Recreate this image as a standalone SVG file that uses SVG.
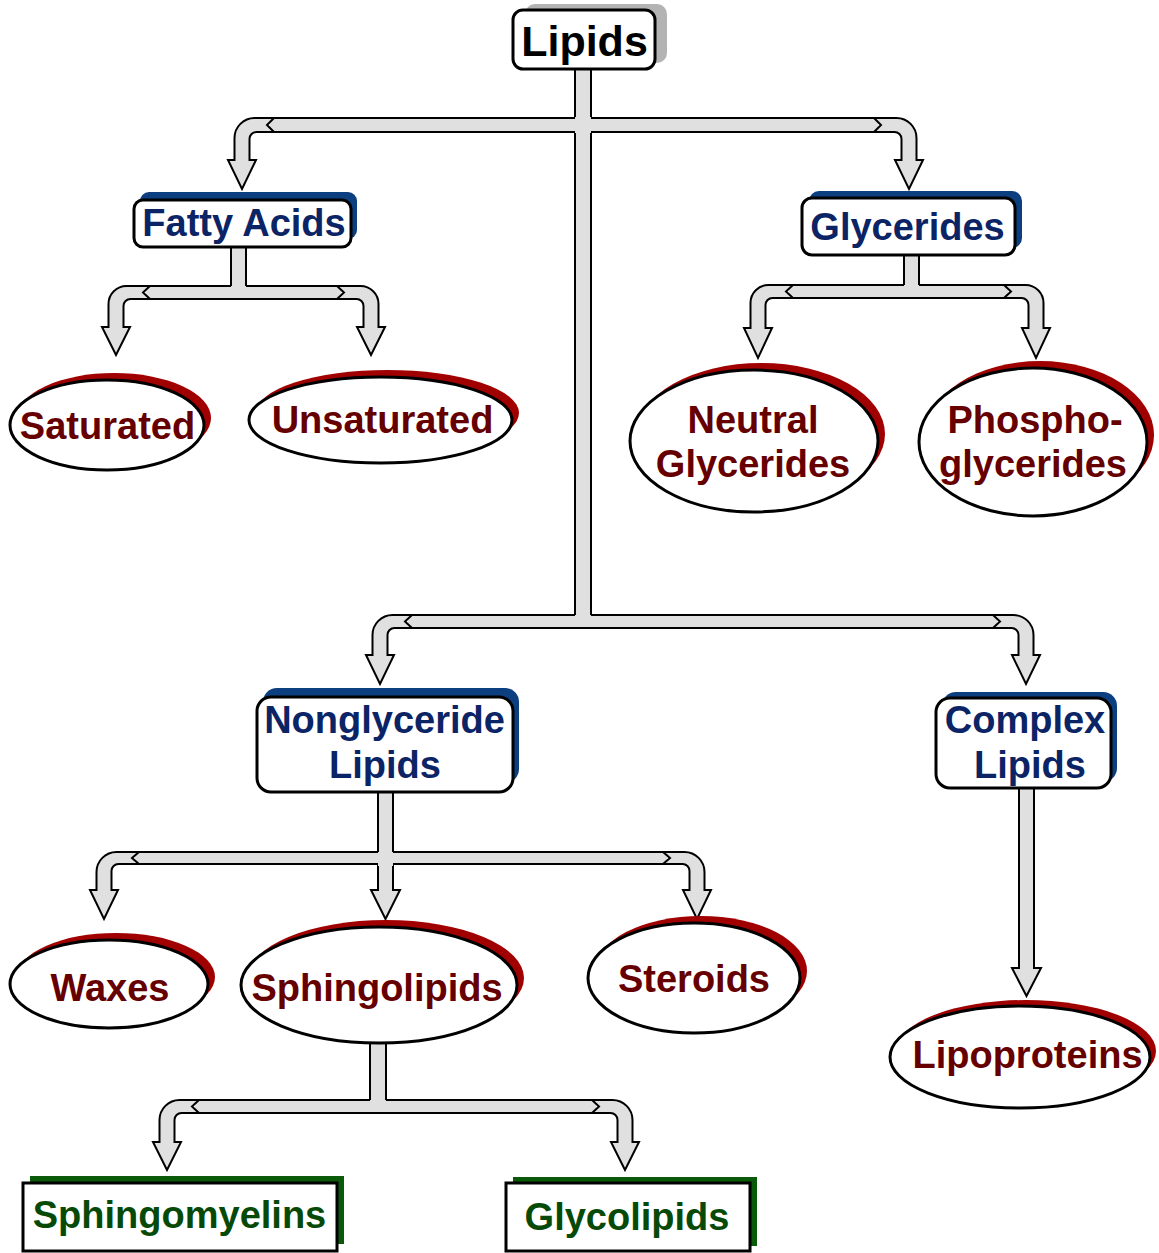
<svg xmlns="http://www.w3.org/2000/svg" width="1159" height="1253" viewBox="0 0 1159 1253">
<style>
.bg{fill:#ffffff}
.band{fill:#e0e0e0;stroke:none}
.edge{stroke:#000;stroke-width:2;fill:none}
.arr{fill:#e0e0e0;stroke:#000;stroke-width:2;stroke-linejoin:miter}
.box{fill:#fff;stroke:#000;stroke-width:3}
.bshadow{fill:#0b3f7f}
.gshadow{fill:#0a5a0a}
.rshadow{fill:#a00000}
.ell{fill:#fff;stroke:#000;stroke-width:3}
text{font-family:"Liberation Sans",Arial,Helvetica,sans-serif;font-weight:bold;font-size:38px;text-anchor:middle}
.tb{fill:#0b2466}
.tr{fill:#660000}
.tg{fill:#074a07}
.tk{fill:#000;font-size:43px}
</style>
<rect class="bg" x="0" y="0" width="1159" height="1253"/>
<g id="connectors">
  <!-- Lipids top branch -->
  <rect class="band" x="270" y="118" width="608" height="14"/>
  <line class="edge" x1="272" y1="118" x2="876" y2="118"/>
  <line class="edge" x1="272" y1="132" x2="876" y2="132"/>
  <path class="arr" d="M274,118 L254.5,118 A20 20 0 0 0 234.5,138 L234.5,160 L228,160 L242,189 L256,160 L249.5,160 L249.5,139 A7 7 0 0 1 256.5,132 L274,132 L267,125 Z"/>
  <path class="arr" d="M874,118 L896.5,118 A20 20 0 0 1 916.5,138 L916.5,160 L923,160 L909,189 L895,160 L901.5,160 L901.5,139 A7 7 0 0 0 894.5,132 L874,132 L881,125 Z"/>
  <!-- Lipids lower branch -->
  <rect class="band" x="408" y="615" width="589" height="13"/>
  <line class="edge" x1="410" y1="615" x2="995" y2="615"/>
  <line class="edge" x1="410" y1="628" x2="995" y2="628"/>
  <path class="arr" d="M412,615 L392.5,615 A20 20 0 0 0 372.5,635 L372.5,655 L366,655 L380,684 L394,655 L387.5,655 L387.5,635 A7 7 0 0 1 394.5,628 L412,628 L405,621.5 Z"/>
  <path class="arr" d="M993,615 L1013.5,615 A20 20 0 0 1 1033.5,635 L1033.5,655 L1040,655 L1026,684 L1012,655 L1018.5,655 L1018.5,635 A7 7 0 0 0 1011.5,628 L993,628 L1000,621.5 Z"/>
  <!-- Lipids stem -->
  <rect class="band" x="575" y="60" width="16" height="556"/>
  <line class="edge" x1="575" y1="60" x2="575" y2="117"/>
  <line class="edge" x1="591" y1="60" x2="591" y2="117"/>
  <line class="edge" x1="575" y1="133" x2="575" y2="615"/>
  <line class="edge" x1="591" y1="133" x2="591" y2="615"/>

  <!-- Fatty Acids branch -->
  <rect class="band" x="146" y="286" width="195" height="13"/>
  <line class="edge" x1="148" y1="286" x2="339" y2="286"/>
  <line class="edge" x1="148" y1="299" x2="339" y2="299"/>
  <path class="arr" d="M150,286 L126.5,286 A18 18 0 0 0 108.5,304 L108.5,327 L102,327 L116,355 L130,327 L123.5,327 L123.5,306 A7 7 0 0 1 130.5,299 L150,299 L143,292.5 Z"/>
  <path class="arr" d="M337,286 L360.5,286 A18 18 0 0 1 378.5,304 L378.5,327 L385,327 L371,355 L357,327 L363.5,327 L363.5,306 A7 7 0 0 0 356.5,299 L337,299 L344,292.5 Z"/>
  <rect class="band" x="231" y="240" width="15" height="47"/>
  <line class="edge" x1="231" y1="240" x2="231" y2="286"/>
  <line class="edge" x1="246" y1="240" x2="246" y2="286"/>

  <!-- Glycerides branch -->
  <rect class="band" x="789" y="285" width="219" height="13"/>
  <line class="edge" x1="791" y1="285" x2="1006" y2="285"/>
  <line class="edge" x1="791" y1="298" x2="1006" y2="298"/>
  <path class="arr" d="M793,285 L768.5,285 A18 18 0 0 0 750.5,303 L750.5,328 L744,328 L758,358 L772,328 L765.5,328 L765.5,305 A7 7 0 0 1 772.5,298 L793,298 L786,291.5 Z"/>
  <path class="arr" d="M1004,285 L1025.5,285 A18 18 0 0 1 1043.5,303 L1043.5,328 L1050,328 L1036,358 L1022,328 L1028.5,328 L1028.5,305 A7 7 0 0 0 1021.5,298 L1004,298 L1011,291.5 Z"/>
  <rect class="band" x="904" y="248" width="15" height="38"/>
  <line class="edge" x1="904" y1="248" x2="904" y2="285"/>
  <line class="edge" x1="919" y1="248" x2="919" y2="285"/>

  <!-- Nonglyceride branch -->
  <rect class="band" x="135" y="852" width="532" height="12"/>
  <line class="edge" x1="137" y1="852" x2="665" y2="852"/>
  <line class="edge" x1="137" y1="864" x2="665" y2="864"/>
  <path class="arr" d="M139,852 L116.5,852 A20 20 0 0 0 96.5,872 L96.5,890 L90,890 L104,919 L118,890 L111.5,890 L111.5,871 A7 7 0 0 1 118.5,864 L139,864 L132,858 Z"/>
  <path class="arr" d="M663,852 L684.5,852 A20 20 0 0 1 704.5,872 L704.5,890 L711,890 L697,919 L683,890 L689.5,890 L689.5,871 A7 7 0 0 0 682.5,864 L663,864 L670,858 Z"/>
  <path class="arr" d="M378,864 L378,890 L371,890 L385.5,919 L400,890 L393,890 L393,864"/>
  <rect class="band" x="378" y="785" width="15" height="81"/>
  <line class="edge" x1="378" y1="785" x2="378" y2="852"/>
  <line class="edge" x1="393" y1="785" x2="393" y2="852"/>

  <!-- Complex branch -->
  <path class="arr" d="M1019,782 L1019,968 L1012,968 L1026.5,996 L1041,968 L1034,968 L1034,782"/>

  <!-- Sphingolipids branch -->
  <rect class="band" x="195" y="1100" width="401" height="13"/>
  <line class="edge" x1="197" y1="1100" x2="594" y2="1100"/>
  <line class="edge" x1="197" y1="1113" x2="594" y2="1113"/>
  <path class="arr" d="M199,1100 L179.5,1100 A20 20 0 0 0 159.5,1120 L159.5,1142 L153,1142 L167,1170 L181,1142 L174.5,1142 L174.5,1120 A7 7 0 0 1 181.5,1113 L199,1113 L192,1106.5 Z"/>
  <path class="arr" d="M592,1100 L612.5,1100 A20 20 0 0 1 632.5,1120 L632.5,1142 L639,1142 L625,1170 L611,1142 L617.5,1142 L617.5,1120 A7 7 0 0 0 610.5,1113 L592,1113 L599,1106.5 Z"/>
  <rect class="band" x="370" y="1030" width="16" height="71"/>
  <line class="edge" x1="370" y1="1030" x2="370" y2="1100"/>
  <line class="edge" x1="386" y1="1030" x2="386" y2="1100"/>
</g>

<g id="lipids">
  <rect x="525" y="4" width="142" height="59" rx="10" fill="#b3b3b3"/>
  <rect class="box" x="513" y="10" width="142" height="59" rx="10"/>
  <text class="tk" x="584.5" y="56">Lipids</text>
</g>
<g id="fatty-acids">
  <rect class="bshadow" x="140" y="192" width="217" height="47" rx="9"/>
  <rect class="box" x="134" y="200" width="217" height="47" rx="9"/>
  <text class="tb" x="244" y="236">Fatty Acids</text>
</g>
<g id="glycerides">
  <rect class="bshadow" x="809" y="191" width="213" height="57" rx="10"/>
  <rect class="box" x="802" y="198" width="213" height="57" rx="10"/>
  <text class="tb" x="907.5" y="240">Glycerides</text>
</g>
<g id="saturated">
  <ellipse class="rshadow" cx="114" cy="418" rx="97" ry="45"/>
  <ellipse class="ell" cx="107" cy="425" rx="97" ry="45"/>
  <text class="tr" x="107.5" y="439">Saturated</text>
</g>
<g id="unsaturated">
  <ellipse class="rshadow" cx="387.5" cy="413" rx="131.5" ry="43"/>
  <ellipse class="ell" cx="380.5" cy="420" rx="131.5" ry="43"/>
  <text class="tr" x="382.5" y="433">Unsaturated</text>
</g>
<g id="neutral-glycerides">
  <ellipse class="rshadow" cx="761" cy="434" rx="124" ry="71"/>
  <ellipse class="ell" cx="754" cy="441" rx="124" ry="71"/>
  <text class="tr" x="753" y="433">Neutral</text>
  <text class="tr" x="753" y="477">Glycerides</text>
</g>
<g id="phosphoglycerides">
  <ellipse class="rshadow" cx="1040" cy="435" rx="114" ry="74"/>
  <ellipse class="ell" cx="1033" cy="442" rx="114" ry="74"/>
  <text class="tr" x="1035" y="433">Phospho-</text>
  <text class="tr" x="1033" y="477">glycerides</text>
</g>
<g id="nonglyceride-lipids">
  <rect class="bshadow" x="263" y="688" width="256" height="95" rx="14"/>
  <rect class="box" x="257" y="697" width="256" height="95" rx="14"/>
  <text class="tb" x="384.5" y="733">Nonglyceride</text>
  <text class="tb" x="385" y="778">Lipids</text>
</g>
<g id="complex-lipids">
  <rect class="bshadow" x="942" y="692" width="175" height="90" rx="14"/>
  <rect class="box" x="936" y="698" width="175" height="90" rx="14"/>
  <text class="tb" x="1025" y="733">Complex</text>
  <text class="tb" x="1030" y="778">Lipids</text>
</g>
<g id="waxes">
  <ellipse class="rshadow" cx="116" cy="977" rx="99" ry="44"/>
  <ellipse class="ell" cx="109" cy="984" rx="99" ry="44"/>
  <text class="tr" x="110" y="1001">Waxes</text>
</g>
<g id="sphingolipids">
  <ellipse class="rshadow" cx="386" cy="978" rx="138" ry="58"/>
  <ellipse class="ell" cx="379" cy="985" rx="138" ry="58"/>
  <text class="tr" x="377" y="1001">Sphingolipids</text>
</g>
<g id="steroids">
  <ellipse class="rshadow" cx="701" cy="971" rx="106" ry="55"/>
  <ellipse class="ell" cx="694" cy="978" rx="106" ry="55"/>
  <text class="tr" x="694" y="992">Steroids</text>
</g>
<g id="lipoproteins">
  <ellipse class="rshadow" cx="1026" cy="1051" rx="130" ry="51"/>
  <ellipse class="ell" cx="1020" cy="1057" rx="130" ry="51"/>
  <text class="tr" x="1027.5" y="1068">Lipoproteins</text>
</g>
<g id="sphingomyelins">
  <rect class="gshadow" x="30" y="1176" width="314" height="68"/>
  <rect class="box" x="23" y="1183" width="314" height="68"/>
  <text class="tg" x="179.5" y="1228">Sphingomyelins</text>
</g>
<g id="glycolipids">
  <rect class="gshadow" x="513" y="1177" width="244" height="69"/>
  <rect class="box" x="506" y="1183" width="244" height="68"/>
  <text class="tg" x="627" y="1230">Glycolipids</text>
</g>
</svg>
